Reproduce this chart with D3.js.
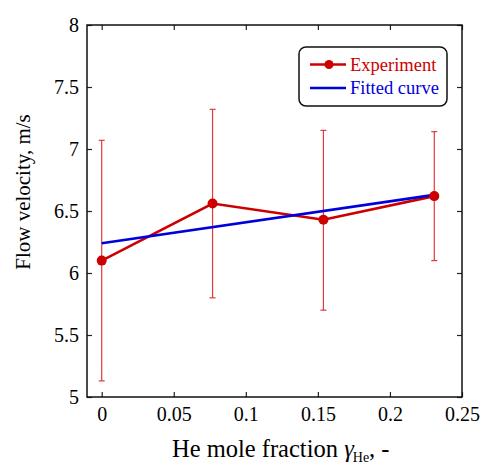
<!DOCTYPE html>
<html>
<head>
<meta charset="utf-8">
<script src="https://cdn.jsdelivr.net/npm/d3@7"></script>
<style>
  body { margin: 0; background: #fff; }
  svg, svg text { font-family: "Times New Roman", "Liberation Serif", Times, "DejaVu Serif", serif !important; }
</style>
</head>
<body>
<div id="vis"></div>
<script>
// He mole fraction values
const fractions = [0, 1 / 13, 2 / 13, 3 / 13];
const velocity = [6.10, 6.56, 6.43, 6.62];
const errLow = [5.13, 5.80, 5.70, 6.10];
const errHigh = [7.07, 7.32, 7.15, 7.14];

const fitX = [0, 3 / 13];
const fitY = [6.24, 6.63];

const xTicks = [0, 0.05, 0.1, 0.15, 0.2, 0.25];
const yTicks = [5, 5.5, 6, 6.5, 7, 7.5, 8];

const width = 480;
const height = 467;
const margin = {top: 25, right: 18, bottom: 70, left: 87};

const svg = d3.select('#vis').append('svg')
    .attr('width', width)
    .attr('height', height);

const x = d3.scaleLinear()
    .domain([-0.0102, 0.25])
    .range([margin.left, width - margin.right]);

const y = d3.scaleLinear()
    .domain([5, 8])
    .range([height - margin.bottom, margin.top]);

const tickLen = 5;

// inward ticks on all four sides
svg.append('g')
    .attr('transform', `translate(0, ${y(5)})`)
    .call(d3.axisBottom(x).tickValues(xTicks).tickSize(-tickLen).tickPadding(10)
      .tickFormat(d => d === 0 ? '0' : String(d)))
    .call(g => g.select('.domain').remove())
    .call(g => g.selectAll('text').attr('font-size', 20).attr('fill', '#000'));

svg.append('g')
    .attr('transform', `translate(0, ${y(8)})`)
    .call(d3.axisTop(x).tickValues(xTicks).tickSize(-tickLen).tickFormat(''))
    .call(g => g.select('.domain').remove());

svg.append('g')
    .attr('transform', `translate(${x.range()[0]}, 0)`)
    .call(d3.axisLeft(y).tickValues(yTicks).tickSize(-tickLen).tickPadding(8)
      .tickFormat(d => String(d)))
    .call(g => g.select('.domain').remove())
    .call(g => g.selectAll('text').attr('font-size', 20).attr('fill', '#000'));

svg.append('g')
    .attr('transform', `translate(${x.range()[1]}, 0)`)
    .call(d3.axisRight(y).tickValues(yTicks).tickSize(-tickLen).tickFormat(''))
    .call(g => g.select('.domain').remove());

svg.selectAll('.tick line').attr('stroke', '#222').attr('stroke-width', 1.2);

svg.append('rect')
    .attr('x', x.range()[0])
    .attr('y', y(8))
    .attr('width', x.range()[1] - x.range()[0])
    .attr('height', y(5) - y(8))
    .attr('fill', 'none')
    .attr('stroke', '#111')
    .attr('stroke-width', 1.5);

// error bars
const errColor = '#e03a3a';
const bars = svg.append('g')
  .selectAll('g')
  .data(fractions.map((f, i) => ({f, lo: errLow[i], hi: errHigh[i]})))
  .join('g')
    .attr('stroke', errColor)
    .attr('stroke-width', 1.2);

bars.append('line')
    .attr('x1', d => x(d.f)).attr('x2', d => x(d.f))
    .attr('y1', d => y(d.lo)).attr('y2', d => y(d.hi));
bars.append('line')
    .attr('x1', d => x(d.f) - 3).attr('x2', d => x(d.f) + 3)
    .attr('y1', d => y(d.lo)).attr('y2', d => y(d.lo));
bars.append('line')
    .attr('x1', d => x(d.f) - 3).attr('x2', d => x(d.f) + 3)
    .attr('y1', d => y(d.hi)).attr('y2', d => y(d.hi));

const line = d3.line().x(d => x(d[0])).y(d => y(d[1]));

// experiment
const red = '#cc0000';
svg.append('path')
    .datum(d3.zip(fractions, velocity))
    .attr('d', line)
    .attr('fill', 'none')
    .attr('stroke', red)
    .attr('stroke-width', 2.6);

// fitted curve
const blue = '#0000dd';
svg.append('path')
    .datum(d3.zip(fitX, fitY))
    .attr('d', line)
    .attr('fill', 'none')
    .attr('stroke', blue)
    .attr('stroke-width', 2.6);

svg.append('g')
  .selectAll('circle')
  .data(d3.zip(fractions, velocity))
  .join('circle')
    .attr('cx', d => x(d[0]))
    .attr('cy', d => y(d[1]))
    .attr('r', 5)
    .attr('fill', red);

// legend
const legend = svg.append('g').attr('transform', 'translate(299, 47)');
legend.append('rect')
    .attr('width', 148)
    .attr('height', 59)
    .attr('rx', 7)
    .attr('fill', '#fff')
    .attr('stroke', '#111')
    .attr('stroke-width', 1.5);

const legendItems = [
  {label: 'Experiment', color: red, marker: true},
  {label: 'Fitted curve', color: blue, marker: false},
];

legend.selectAll('.item')
  .data(legendItems)
  .join('g')
    .attr('class', 'item')
    .attr('transform', (d, i) => `translate(0, ${17.5 + i * 23.5})`)
    .call(g => g.append('line')
        .attr('x1', 11).attr('x2', 47)
        .attr('stroke', d => d.color)
        .attr('stroke-width', 2.4))
    .call(g => g.filter(d => d.marker).append('circle')
        .attr('cx', 30).attr('r', 4.5)
        .attr('fill', d => d.color))
    .call(g => g.append('text')
        .attr('x', 51)
        .attr('y', 6)
        .attr('font-size', 18.5)
        .attr('fill', d => d.color)
        .text(d => d.label));

// axis titles
svg.append('text')
    .attr('transform', 'translate(30, 192) rotate(-90)')
    .attr('text-anchor', 'middle')
    .attr('font-size', 21)
    .text('Flow velocity, m/s');

const xTitle = svg.append('text')
    .attr('x', 172)
    .attr('y', 457)
    .attr('font-size', 24.5);
xTitle.append('tspan').text('He mole fraction ');
xTitle.append('tspan').attr('font-style', 'italic').text('γ');
xTitle.append('tspan').attr('font-size', 14).attr('dy', 5).attr('dx', -1).text('He');
xTitle.append('tspan').attr('dy', -5).text(', -');
</script>
</body>
</html>
